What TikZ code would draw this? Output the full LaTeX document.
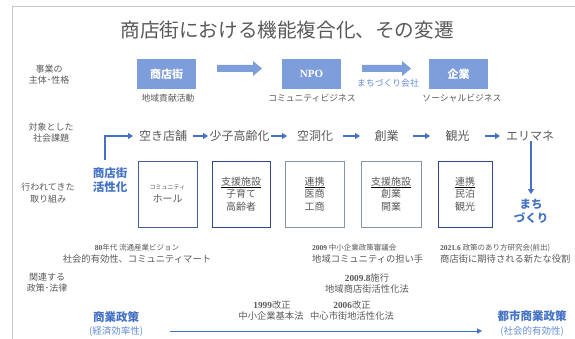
\documentclass[tikz,border=0pt]{standalone}
\usepackage{fontspec}
\setmainfont{Noto Sans CJK JP}
\newfontfamily\ser{Liberation Serif}
\usetikzlibrary{arrows.meta}
\definecolor{txt}{RGB}{89,89,89}
\definecolor{bl}{RGB}{68,114,196}
\definecolor{bllight}{RGB}{100,140,210}
\definecolor{boxfill}{RGB}{125,157,219}
\definecolor{frame}{RGB}{200,200,200}
\definecolor{bdark}{RGB}{47,74,135}
\definecolor{bmid}{RGB}{70,95,150}
\definecolor{blight}{RGB}{132,150,176}
\tikzset{
  lbl/.style={font=\fontsize{9}{11.5}\selectfont, text=txt, align=center, inner sep=0pt},
  bluebox/.style={fill=boxfill, minimum width=59pt, minimum height=30pt, text=white, font=\fontsize{11}{13}\selectfont\bfseries, inner sep=0pt},
  sub/.style={font=\fontsize{8.8}{10}\selectfont, text=txt, inner sep=0pt},
  issue/.style={font=\fontsize{12}{14}\selectfont, text=txt, inner sep=0pt, minimum height=10pt, outer sep=0pt},
  arr/.style={draw=bl, line width=1.2pt, -{Triangle[length=5pt,width=6pt]}},
  thinarr/.style={draw=bl, line width=0.9pt, -{Triangle[length=5pt,width=5pt]}},
  obox/.style={draw, line width=0.9pt, minimum height=66pt, text=txt, font=\fontsize{10}{12.5}\selectfont, align=center, inner sep=0pt},
  hl/.style={text=bl, font=\fontsize{11.5}{14}\selectfont\bfseries, align=center, inner sep=0pt},
  polsmall/.style={text=txt, font=\fontsize{7.5}{9}\selectfont, inner sep=0pt},
  pol/.style={text=txt, font=\fontsize{9.3}{11}\selectfont, align=center, inner sep=0pt},
}
\begin{document}
\begin{tikzpicture}[x=1pt,y=-1pt]
\useasboundingbox (0,0) rectangle (575,339);
% frame
\draw[frame, line width=1.5pt] (12.3,339) -- (12.3,6.7) -- (575,6.7);
% title
\node[font=\fontsize{19.6}{22}\selectfont, text=txt, inner sep=0pt] (title) at (287,30) {商店街における機能複合化、その変遷};

% row labels
\node[lbl] (r1) at (49,74.5) {事業の\\主体･性格};
\node[lbl] (r2) at (51,132.5) {対象とした\\社会課題};
\node[lbl] (r3) at (48,193) {行われてきた\\取り組み};
\node[lbl] (r4) at (47,282.5) {関連する\\政策･法律};

% row 1
\node[bluebox] (b1) at (166.5,74) {商店街};
\node[bluebox, font=\fontsize{11}{13}\selectfont\ser\bfseries] (b2) at (311.5,74) {NPO};
\node[bluebox] (b3) at (458.5,74) {企業};
\fill[boxfill] (217,65) -- (253,65) -- (253,61) -- (262,68.5) -- (253,76) -- (253,72) -- (217,72) -- cycle;
\fill[boxfill] (362,65) -- (402,65) -- (402,61) -- (411,68.5) -- (402,76) -- (402,72) -- (362,72) -- cycle;
\node[font=\fontsize{8.8}{10}\selectfont, text=bllight, inner sep=0pt] (mc) at (388,83) {まちづくり会社};
\node[sub] (s1) at (168,98) {地域貢献活動};
\node[sub] (s2) at (312,98) {コミュニティビジネス};
\node[sub] (s3) at (462,98) {ソーシャルビジネス};

% row 2
\node[issue, minimum width=60pt] (t1) at (163,136) {空き店舗};
\node[issue, minimum width=63pt] (t2) at (239.5,136) {少子高齢化};
\node[issue, minimum width=56pt] (t3) at (315,136) {空洞化};
\node[issue, minimum width=53pt] (t4) at (386.5,136) {創業};
\node[issue, minimum width=55pt] (t5) at (457.5,136) {観光};
\node[issue, minimum width=60pt] (t6) at (530,136) {エリマネ};
\draw[arr] (t1) -- (t2);
\draw[arr] (t2) -- (t3);
\draw[arr] (t3) -- (t4);
\draw[arr] (t4) -- (t5);
\draw[arr] (t5) -- (t6);

% row 3
\node[hl] (sk) at (110,180) {商店街\\活性化};
\draw[arr] ([xshift=-5pt,yshift=7pt]sk.north) |- (t1.west);
\node[hl] (mz) at (531,211.5) {まち\\づくり};
\draw[arr, shorten >=5pt] (t6.south -| mz.north) -- (mz.north);

\node[obox, draw=bmid, minimum width=59pt] (o1) at (167.5,194) {{\fontsize{6}{7}\selectfont コミュニティ}\\[1pt]ホール};
\node[obox, draw=bdark, minimum width=58pt] (o2) at (241,194) {\color{black}\underline{\color{txt}支援施設}\\子育て\\高齢者};
\node[obox, draw=blight, minimum width=59pt] (o3) at (314.5,194) {\color{black}\underline{\color{txt}連携}\\医商\\工商};
\node[obox, draw=blight, minimum width=60pt] (o4) at (391,194) {\color{black}\underline{\color{txt}支援施設}\\創業\\開業};
\node[obox, draw=bdark, minimum width=54pt] (o5) at (465,194) {\color{black}\underline{\color{txt}連携}\\民泊\\観光};

% row 4
\node[polsmall] (p1a) at (137,248) {{\ser\bfseries 80}年代 流通産業ビジョン};
\node[pol] (p1b) at (137,258.5) {社会的有効性、コミュニティマート};
\node[polsmall, anchor=west] (p2a) at (312,248) {{\ser\bfseries 2009} 中小企業政策審議会};
\node[pol, anchor=west] (p2b) at (312,258.5) {地域コミュニティの担い手};
\node[polsmall, anchor=west] (p3a) at (440,248) {{\ser\bfseries 2021.6} 政策のあり方研究会(前出)};
\node[pol, anchor=west] (p3b) at (440,258.5) {商店街に期待される新たな役割};
\node[pol] (p4a) at (367,278) {{\ser\bfseries 2009.8}施行};
\node[pol] (p4b) at (367,289) {地域商店街活性化法};
\node[pol] (p5a) at (272,305) {{\ser\bfseries 1999}改正};
\node[pol] (p5b) at (271,316) {中小企業基本法};
\node[pol] (p6a) at (352,305) {{\ser\bfseries 2006}改正};
\node[pol] (p6b) at (352,316) {中心市街地活性化法};

\node[hl] (kp) at (116,317) {商業政策};
\node[text=bllight, font=\fontsize{9.5}{11}\selectfont, inner sep=0pt] (kp2) at (116,331) {(経済効率性)};
\node[hl] (ts) at (532,316) {都市商業政策};
\node[text=bllight, font=\fontsize{9.5}{11}\selectfont, inner sep=0pt] (ts2) at (532,331) {(社会的有効性)};
\draw[thinarr] ([xshift=27pt]kp2.east) -- ([xshift=-18pt]ts2.west);
\end{tikzpicture}
\end{document}
